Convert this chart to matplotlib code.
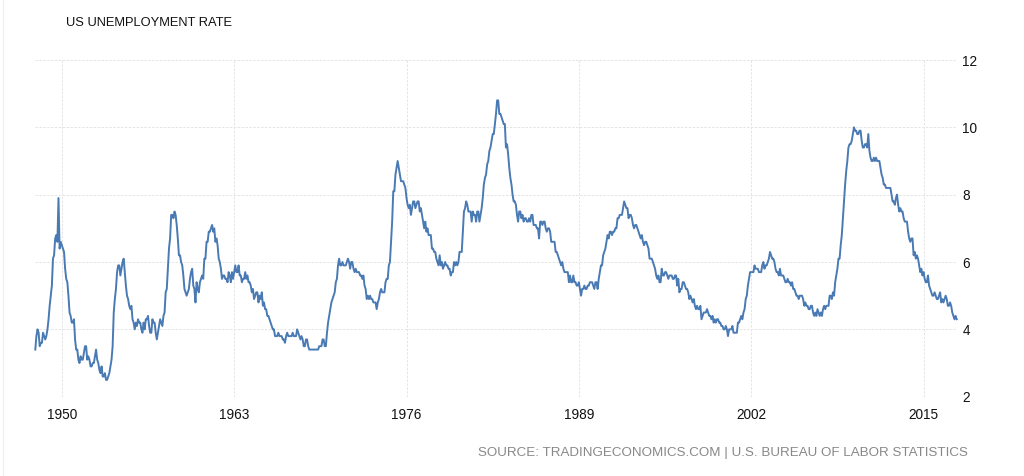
import numpy as np
import matplotlib
matplotlib.use("Agg")
import matplotlib.pyplot as plt

plt.rcParams["font.family"] = ["Liberation Sans", "DejaVu Sans"]

start_year = 1948
# Monthly US unemployment rate (%), Jan 1948 onward
rates_by_year = {
    1948: [3.4, 3.8, 4.0, 3.9, 3.5, 3.6, 3.6, 3.9, 3.8, 3.7, 3.8, 4.0],
    1949: [4.3, 4.7, 5.0, 5.3, 6.1, 6.2, 6.7, 6.8, 6.6, 7.9, 6.4, 6.6],
    1950: [6.5, 6.4, 6.3, 5.8, 5.5, 5.4, 5.0, 4.5, 4.4, 4.2, 4.2, 4.3],
    1951: [3.7, 3.4, 3.4, 3.1, 3.0, 3.2, 3.1, 3.1, 3.3, 3.5, 3.5, 3.1],
    1952: [3.2, 3.1, 2.9, 2.9, 3.0, 3.0, 3.2, 3.4, 3.1, 3.0, 2.8, 2.7],
    1953: [2.9, 2.6, 2.6, 2.7, 2.5, 2.5, 2.6, 2.7, 2.9, 3.1, 3.5, 4.5],
    1954: [4.9, 5.2, 5.7, 5.9, 5.9, 5.6, 5.8, 6.0, 6.1, 5.7, 5.3, 5.0],
    1955: [4.9, 4.7, 4.6, 4.7, 4.3, 4.2, 4.0, 4.2, 4.1, 4.3, 4.2, 4.2],
    1956: [4.0, 3.9, 4.2, 4.0, 4.3, 4.3, 4.4, 4.1, 3.9, 3.9, 4.3, 4.2],
    1957: [4.2, 3.9, 3.7, 3.9, 4.1, 4.3, 4.2, 4.1, 4.4, 4.5, 5.1, 5.2],
    1958: [5.8, 6.4, 6.7, 7.4, 7.4, 7.3, 7.5, 7.4, 7.1, 6.7, 6.2, 6.2],
    1959: [6.0, 5.9, 5.6, 5.2, 5.1, 5.0, 5.1, 5.2, 5.5, 5.7, 5.8, 5.3],
    1960: [5.2, 4.8, 5.4, 5.2, 5.1, 5.4, 5.5, 5.6, 5.5, 6.1, 6.1, 6.6],
    1961: [6.6, 6.9, 6.9, 7.0, 7.1, 6.9, 7.0, 6.6, 6.7, 6.5, 6.1, 6.0],
    1962: [5.8, 5.5, 5.6, 5.6, 5.5, 5.5, 5.4, 5.7, 5.6, 5.4, 5.7, 5.5],
    1963: [5.7, 5.9, 5.7, 5.7, 5.9, 5.6, 5.6, 5.4, 5.5, 5.5, 5.7, 5.5],
    1964: [5.6, 5.4, 5.4, 5.3, 5.1, 5.2, 4.9, 5.0, 5.1, 5.1, 4.8, 5.0],
    1965: [4.9, 5.1, 4.7, 4.8, 4.6, 4.6, 4.4, 4.4, 4.3, 4.2, 4.1, 4.0],
    1966: [4.0, 3.8, 3.8, 3.8, 3.9, 3.8, 3.8, 3.8, 3.7, 3.7, 3.6, 3.8],
    1967: [3.9, 3.8, 3.8, 3.8, 3.8, 3.9, 3.8, 3.8, 3.8, 4.0, 3.9, 3.8],
    1968: [3.7, 3.8, 3.7, 3.5, 3.5, 3.7, 3.7, 3.5, 3.4, 3.4, 3.4, 3.4],
    1969: [3.4, 3.4, 3.4, 3.4, 3.4, 3.5, 3.5, 3.5, 3.7, 3.7, 3.5, 3.5],
    1970: [3.9, 4.2, 4.4, 4.6, 4.8, 4.9, 5.0, 5.1, 5.4, 5.5, 5.9, 6.1],
    1971: [5.9, 5.9, 6.0, 5.9, 5.9, 5.9, 6.0, 6.1, 6.0, 5.8, 6.0, 6.0],
    1972: [5.8, 5.7, 5.8, 5.7, 5.7, 5.7, 5.6, 5.6, 5.5, 5.6, 5.3, 5.2],
    1973: [4.9, 5.0, 4.9, 5.0, 4.9, 4.9, 4.8, 4.8, 4.8, 4.6, 4.8, 4.9],
    1974: [5.1, 5.2, 5.1, 5.1, 5.1, 5.4, 5.5, 5.5, 5.9, 6.0, 6.6, 7.2],
    1975: [8.1, 8.1, 8.6, 8.8, 9.0, 8.8, 8.6, 8.4, 8.4, 8.4, 8.3, 8.2],
    1976: [7.9, 7.7, 7.6, 7.7, 7.4, 7.6, 7.8, 7.8, 7.6, 7.7, 7.8, 7.8],
    1977: [7.5, 7.6, 7.4, 7.2, 7.0, 7.2, 6.9, 7.0, 6.8, 6.8, 6.8, 6.4],
    1978: [6.4, 6.3, 6.3, 6.1, 6.0, 5.9, 6.2, 5.9, 6.0, 5.8, 5.9, 6.0],
    1979: [5.9, 5.9, 5.8, 5.8, 5.6, 5.7, 5.7, 6.0, 5.9, 6.0, 5.9, 6.0],
    1980: [6.3, 6.3, 6.3, 6.9, 7.5, 7.6, 7.8, 7.7, 7.5, 7.5, 7.5, 7.2],
    1981: [7.5, 7.4, 7.4, 7.2, 7.5, 7.5, 7.2, 7.4, 7.6, 7.9, 8.3, 8.5],
    1982: [8.6, 8.9, 9.0, 9.3, 9.4, 9.6, 9.8, 9.8, 10.1, 10.4, 10.8, 10.8],
    1983: [10.4, 10.4, 10.3, 10.2, 10.1, 10.1, 9.4, 9.5, 9.2, 8.8, 8.5, 8.3],
    1984: [8.0, 7.8, 7.8, 7.7, 7.4, 7.2, 7.5, 7.5, 7.3, 7.4, 7.2, 7.3],
    1985: [7.3, 7.2, 7.2, 7.3, 7.2, 7.4, 7.4, 7.1, 7.1, 7.1, 7.0, 7.0],
    1986: [6.7, 7.2, 7.2, 7.1, 7.2, 7.2, 7.0, 6.9, 7.0, 7.0, 6.9, 6.6],
    1987: [6.6, 6.6, 6.6, 6.3, 6.3, 6.2, 6.1, 6.0, 5.9, 6.0, 5.8, 5.7],
    1988: [5.7, 5.7, 5.7, 5.4, 5.6, 5.4, 5.4, 5.6, 5.4, 5.4, 5.3, 5.3],
    1989: [5.4, 5.2, 5.0, 5.2, 5.2, 5.3, 5.2, 5.2, 5.3, 5.3, 5.4, 5.4],
    1990: [5.4, 5.3, 5.2, 5.4, 5.4, 5.2, 5.5, 5.7, 5.9, 5.9, 6.2, 6.3],
    1991: [6.4, 6.6, 6.8, 6.7, 6.9, 6.9, 6.8, 6.9, 6.9, 7.0, 7.0, 7.3],
    1992: [7.3, 7.4, 7.4, 7.4, 7.6, 7.8, 7.7, 7.6, 7.6, 7.3, 7.4, 7.4],
    1993: [7.3, 7.1, 7.0, 7.1, 7.1, 7.0, 6.9, 6.8, 6.7, 6.8, 6.6, 6.5],
    1994: [6.6, 6.6, 6.5, 6.4, 6.1, 6.1, 6.1, 6.0, 5.9, 5.8, 5.6, 5.5],
    1995: [5.6, 5.4, 5.4, 5.8, 5.6, 5.6, 5.7, 5.7, 5.6, 5.5, 5.6, 5.6],
    1996: [5.6, 5.5, 5.5, 5.6, 5.6, 5.3, 5.5, 5.1, 5.2, 5.2, 5.4, 5.4],
    1997: [5.3, 5.2, 5.2, 5.1, 4.9, 5.0, 4.9, 4.8, 4.9, 4.7, 4.6, 4.7],
    1998: [4.6, 4.6, 4.7, 4.3, 4.4, 4.5, 4.5, 4.5, 4.6, 4.5, 4.4, 4.4],
    1999: [4.3, 4.4, 4.2, 4.3, 4.2, 4.3, 4.3, 4.2, 4.2, 4.1, 4.1, 4.0],
    2000: [4.0, 4.1, 4.0, 3.8, 4.0, 4.0, 4.0, 4.1, 3.9, 3.9, 3.9, 3.9],
    2001: [4.2, 4.2, 4.3, 4.4, 4.3, 4.5, 4.6, 4.9, 5.0, 5.3, 5.5, 5.7],
    2002: [5.7, 5.7, 5.7, 5.9, 5.8, 5.8, 5.8, 5.7, 5.7, 5.7, 5.9, 6.0],
    2003: [5.8, 5.9, 5.9, 6.0, 6.1, 6.3, 6.2, 6.1, 6.1, 6.0, 5.8, 5.7],
    2004: [5.7, 5.6, 5.8, 5.6, 5.6, 5.6, 5.5, 5.4, 5.4, 5.5, 5.4, 5.4],
    2005: [5.3, 5.4, 5.2, 5.2, 5.1, 5.0, 5.0, 4.9, 5.0, 5.0, 5.0, 4.9],
    2006: [4.7, 4.8, 4.7, 4.7, 4.6, 4.6, 4.7, 4.7, 4.5, 4.4, 4.5, 4.4],
    2007: [4.6, 4.5, 4.4, 4.5, 4.4, 4.6, 4.7, 4.6, 4.7, 4.7, 4.7, 5.0],
    2008: [5.0, 4.9, 5.1, 5.0, 5.4, 5.6, 5.8, 6.1, 6.1, 6.5, 6.8, 7.3],
    2009: [7.8, 8.3, 8.7, 9.0, 9.4, 9.5, 9.5, 9.6, 9.8, 10.0, 9.9, 9.9],
    2010: [9.8, 9.8, 9.9, 9.9, 9.6, 9.4, 9.4, 9.5, 9.5, 9.4, 9.8, 9.3],
    2011: [9.1, 9.0, 9.0, 9.1, 9.0, 9.1, 9.0, 9.0, 9.0, 8.8, 8.6, 8.5],
    2012: [8.3, 8.3, 8.2, 8.2, 8.2, 8.2, 8.2, 8.0, 7.8, 7.8, 7.7, 7.9],
    2013: [8.0, 7.7, 7.5, 7.6, 7.5, 7.5, 7.3, 7.2, 7.2, 7.2, 6.9, 6.7],
    2014: [6.6, 6.7, 6.7, 6.2, 6.3, 6.1, 6.2, 6.1, 5.9, 5.7, 5.8, 5.6],
    2015: [5.7, 5.5, 5.4, 5.4, 5.6, 5.3, 5.2, 5.1, 5.0, 5.0, 5.1, 5.0],
    2016: [4.9, 4.9, 5.0, 5.1, 4.8, 4.9, 4.8, 4.9, 5.0, 4.9, 4.7, 4.7],
    2017: [4.8, 4.7, 4.5, 4.4, 4.3, 4.4, 4.3],
}

x_ticks = [1950, 1963, 1976, 1989, 2002, 2015]
y_ticks = [2, 4, 6, 8, 10, 12]
title = "US UNEMPLOYMENT RATE"
source = "SOURCE: TRADINGECONOMICS.COM | U.S. BUREAU OF LABOR STATISTICS"

values = []
for yr in sorted(rates_by_year):
    values.extend(rates_by_year[yr])
values = np.array(values)
t = start_year + np.arange(len(values)) / 12.0

fig = plt.figure(figsize=(10.24, 4.76), dpi=100)
ax = fig.add_axes([35.3 / 1024, 1 - 396.7 / 476, (956.7 - 35.3) / 1024, (396.7 - 60) / 476])

ax.plot(t, values, color="#4a7ab4", lw=1.4, clip_on=False, zorder=3)
ax.set_xlim(t[0], t[-1])
ax.set_ylim(2, 12)
ax.set_xticks(x_ticks)
ax.set_yticks(y_ticks)
ax.yaxis.tick_right()
ax.tick_params(axis="both", length=0, labelsize=9.8, colors="#111111")
ax.tick_params(axis="y", pad=4)
ax.tick_params(axis="x", pad=8)
for lab in ax.get_yticklabels():
    lab.set_horizontalalignment("left")
ax.grid(True, color="#e4e4e4", lw=0.7, ls=(0, (2.5, 1.5)))
for s in ax.spines.values():
    s.set_visible(False)

fig.text(66 / 1024, 1 - 22.5 / 476, title, fontsize=9.3, color="#111111", va="center", ha="left")
fig.text(968 / 1024, 1 - 453 / 476, source, fontsize=9.6, color="#888888", va="center", ha="right")
fig.add_artist(plt.Line2D([3 / 1024, 3 / 1024], [0, 1], color="#f0f0f0", lw=1, transform=fig.transFigure))

fig.savefig("out.png", dpi=100)
